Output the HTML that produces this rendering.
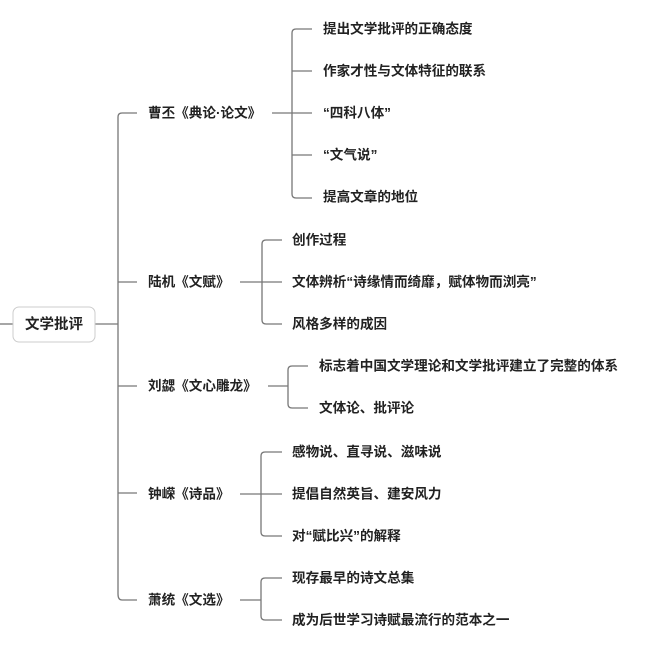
<!DOCTYPE html>
<html><head><meta charset="utf-8"><style>
body{margin:0;background:#fff;width:660px;height:655px;overflow:hidden}
svg text{font-family:"Liberation Sans","Noto Sans CJK SC",sans-serif;font-size:13.6px;fill:#222;font-weight:bold;dominant-baseline:central}
</style></head><body>
<svg width="660" height="655" viewBox="0 0 660 655" xmlns="http://www.w3.org/2000/svg">
<g fill="none" stroke="#777" stroke-width="1.3">
<line x1="0" y1="324" x2="13" y2="324"/>
<line x1="95" y1="324" x2="118" y2="324"/>
<path d="M137 113 H122 Q118 113 118 117 V594 Q118 600 122 600 H137"/>
<line x1="118" y1="282" x2="137" y2="282"/>
<line x1="118" y1="386" x2="137" y2="386"/>
<line x1="118" y1="493" x2="137" y2="493"/>
<line x1="272" y1="113" x2="312" y2="113"/>
<path d="M312 29 H296 Q292 29 292 33 V194 Q292 198 296 198 H312"/>
<line x1="292" y1="71" x2="312" y2="71"/>
<line x1="292" y1="155" x2="312" y2="155"/>
<line x1="240" y1="282" x2="282" y2="282"/>
<path d="M282 240 H266 Q262 240 262 244 V320 Q262 324 266 324 H282"/>
<line x1="268" y1="386" x2="288" y2="386"/>
<path d="M308 366 H292 Q288 366 288 370 V404 Q288 408 292 408 H308"/>
<line x1="240" y1="494" x2="282" y2="494"/>
<path d="M282 452 H265 Q261 452 261 456 V532 Q261 536 265 536 H282"/>
<line x1="240" y1="600" x2="261" y2="600"/>
<path d="M282 578 H265 Q261 578 261 582 V616 Q261 620 265 620 H282"/>
</g>
<rect x="13" y="307" width="82" height="35" rx="6" fill="#fff" stroke="#ccc" stroke-width="1"/>
<text x="54" y="325" text-anchor="middle" style="font-size:14.5px">文学批评</text>
<text x="148" y="113">曹丕《典论·论文》</text>
<text x="148" y="282">陆机《文赋》</text>
<text x="148" y="386">刘勰《文心雕龙》</text>
<text x="148" y="494">钟嵘《诗品》</text>
<text x="148" y="600">萧统《文选》</text>
<text x="323" y="29">提出文学批评的正确态度</text>
<text x="323" y="71">作家才性与文体特征的联系</text>
<text x="323" y="113">“四科八体”</text>
<text x="323" y="155">“文气说”</text>
<text x="323" y="197">提高文章的地位</text>
<text x="292" y="240">创作过程</text>
<text x="292" y="282">文体辨析“诗缘情而绮靡，赋体物而浏亮”</text>
<text x="292" y="324">风格多样的成因</text>
<text x="319" y="366">标志着中国文学理论和文学批评建立了完整的体系</text>
<text x="319" y="408">文体论、批评论</text>
<text x="292" y="452">感物说、直寻说、滋味说</text>
<text x="292" y="494">提倡自然英旨、建安风力</text>
<text x="292" y="536">对“赋比兴”的解释</text>
<text x="292" y="578">现存最早的诗文总集</text>
<text x="292" y="620">成为后世学习诗赋最流行的范本之一</text>
</svg>
</body></html>
